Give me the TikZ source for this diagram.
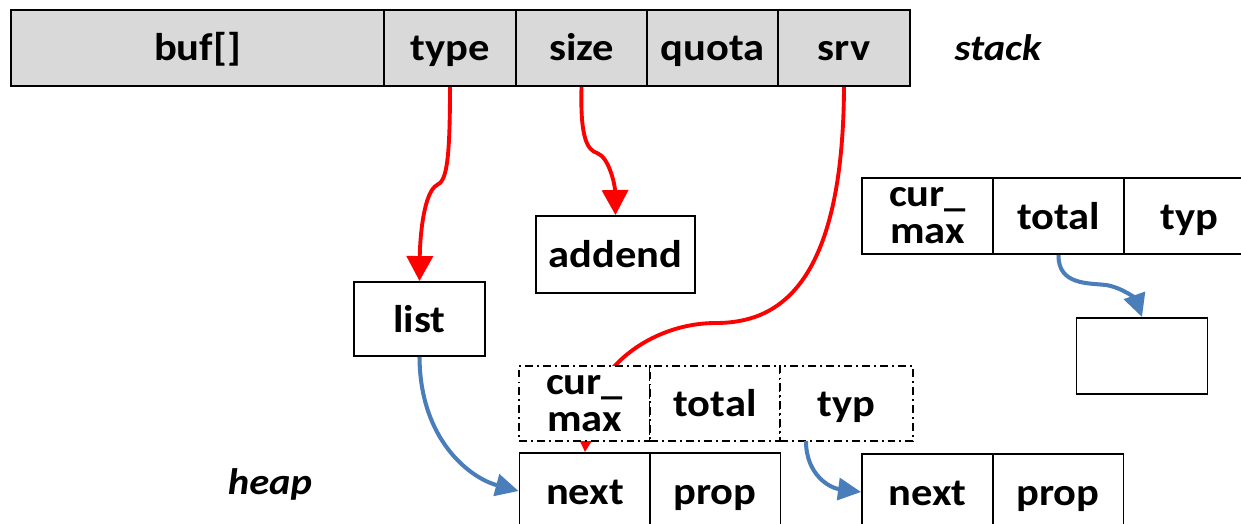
\documentclass[tikz,border=0pt]{standalone}
\usepackage{fontspec}
\setmainfont{Carlito}[FakeStretch=1.1]
\usetikzlibrary{arrows.meta}
\definecolor{cellgray}{HTML}{D9D9D9}
\definecolor{ptrblue}{HTML}{4A7EBB}
\begin{document}
\begin{tikzpicture}[x=0.02cm, y=-0.02cm, font=\fontsize{22}{21}\selectfont\bfseries]
    \tikzstyle{box_style} = [draw=black, line width=1.1pt, rectangle, inner sep=0pt, minimum height=1.52cm, minimum width=2.62cm, align=center]
    \tikzstyle{cell_style} = [box_style, text height=0.58cm, text depth=0.06cm]
    \tikzstyle{stack_style} = [cell_style, fill=cellgray]
    \tikzstyle{dash_style} = [fill=white, dash pattern=on 4.5pt off 2.3pt on 1.1pt off 2.3pt, line width=1pt, minimum height=1.5cm]
    \tikzstyle{red_arrow} = [red, line width=2.2pt, -{Triangle[width=0.52cm, length=0.5cm]}]
    \tikzstyle{blue_arrow} = [ptrblue, line width=2.3pt, -{Triangle[width=0.44cm, length=0.46cm]}]
    \tikzstyle{label_style} = [font=\fontsize{21}{24}\selectfont\bfseries\itshape]

    \useasboundingbox (0,0) rectangle (1241,524);
    \clip (0,0) rectangle (1241,524);

    % stack frame
    \node[stack_style, minimum width=7.46cm] (buf) at (197.5,48) {buf[]};
    \node[stack_style, minimum width=2.64cm] (type) at (450,48) {type};
    \node[stack_style] (size) at (581.5,48) {size};
    \node[stack_style] (quota) at (712.5,48) {quota};
    \node[stack_style, minimum width=2.64cm] (srv) at (844,48) {srv};
    \node[label_style] (stack) at (998,48) {stack};

    % heap objects
    \node[cell_style, minimum width=3.18cm, minimum height=1.54cm] (addend) at (615.5,254.5) {addend};
    \node[cell_style, minimum height=1.48cm] (list) at (419.5,319) {list};

    \node[box_style] (cm2) at (927.5,216) {cur\_\\max};
    \node[cell_style] (total2) at (1058.5,216) {total};
    \node[cell_style] (typ2) at (1189.5,216) {typ};
    \node[cell_style] (obj) at (1142,356) {};

    \node[cell_style] (next1) at (585,491) {next};
    \node[cell_style] (prop1) at (715,491) {prop};
    \node[cell_style] (next2) at (927.5,492) {next};
    \node[cell_style] (prop2) at (1058,492) {prop};
    \node[label_style] (heap) at (270,484) {heap};

    % pointers
    \draw[red_arrow] (type.south) .. controls (450,165) and (446,181) .. (437,185)
        .. controls (424,192) and (420,235) .. (list.north);
    \draw[red_arrow] (size.south) .. controls (580,140) and (588,150) .. (597,153)
        .. controls (609,157) and (615,185) .. (addend.north);
    \draw[red_arrow] (srv.south) .. controls (843,290) and (775,323) .. (716,323)
        .. controls (650,323) and (590,370) .. (next1.north);

    % cast object (drawn over the pointer)
    \node[box_style, dash_style] (cm1) at (584.5,403.5) {cur\_\\max};
    \node[cell_style, dash_style, minimum width=2.6cm] (total1) at (715,403.5) {total};
    \node[cell_style, dash_style, minimum width=2.66cm] (typ1) at (846.5,403.5) {typ};

    \draw[blue_arrow] (list.south) .. controls (420,440) and (470,478) .. (next1.west);
    \draw[blue_arrow] (806,441) .. controls (806,475) and (830,488) .. (next2.west);
    \draw[blue_arrow] (total2.south) .. controls (1058,285) and (1088,283) .. (1106,285)
        .. controls (1124,288) and (1136,300) .. (obj.north);
\end{tikzpicture}
\end{document}
